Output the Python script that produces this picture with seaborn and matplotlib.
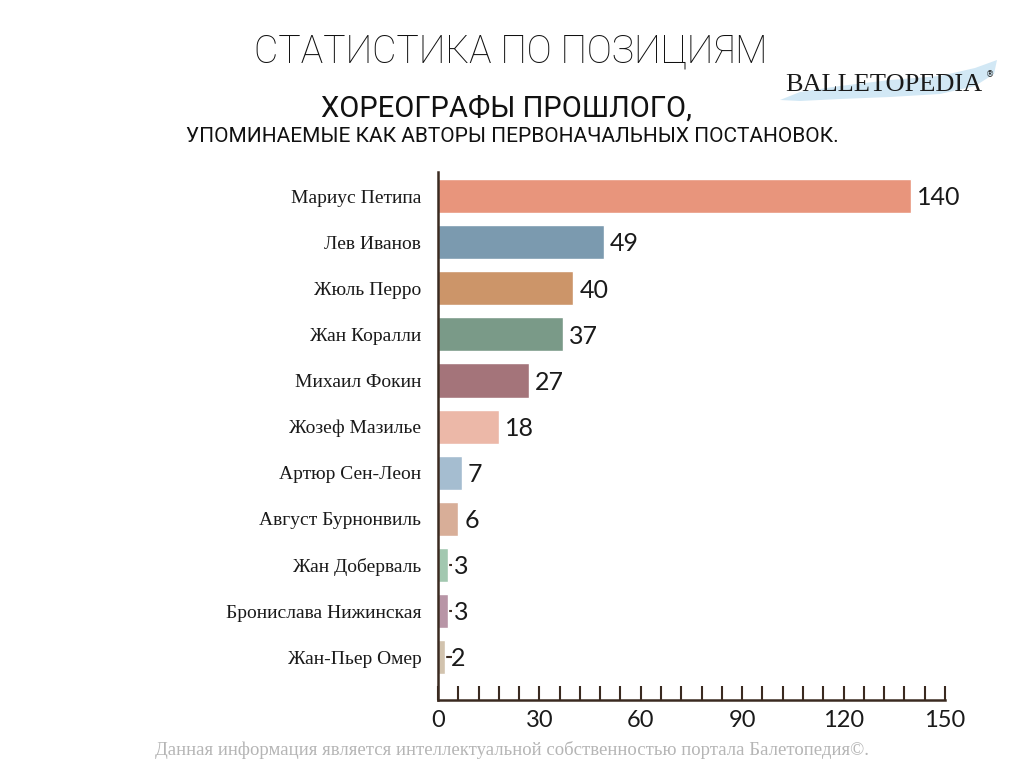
import matplotlib
matplotlib.use("Agg")
import matplotlib.pyplot as plt
import seaborn as sns
import pandas as pd
from matplotlib.patches import Polygon
from matplotlib.ticker import MultipleLocator

# data
names = ['Мариус Петипа', 'Лев Иванов', 'Жюль Перро', 'Жан Коралли',
         'Михаил Фокин', 'Жозеф Мазилье', 'Артюр Сен-Леон',
         'Август Бурнонвиль', 'Жан Доберваль', 'Бронислава Нижинская',
         'Жан-Пьер Омер']
counts = [140, 49, 40, 37, 27, 18, 7, 6, 3, 3, 2]
colors = ['#E8957C', '#7B9AAF', '#CC9569', '#7A9A88', '#A4747A', '#ECB8A8',
          '#A5BDD0', '#D8AE98', '#A2C8B0', '#B895A6', '#D2C3AE']

df = pd.DataFrame({'name': names, 'count': counts})

sns.set_theme(style='white')
plt.rcParams['font.family'] = ['Roboto', 'DejaVu Sans']
axis_col = '#3a2a20'

fig = plt.figure(figsize=(10.24, 7.68), dpi=100)
ax = fig.add_axes([0.4277, 0.0885, 0.4951, 0.6875])

sns.barplot(data=df, x='count', y='name', hue='name', palette=colors,
            legend=False, width=0.74, saturation=1, ax=ax)

ax.set_xlim(0, 150)
ax.set_ylim(10.93, -0.52)
ax.xaxis.set_major_locator(MultipleLocator(30))
ax.xaxis.set_minor_locator(MultipleLocator(6))
ax.tick_params(axis='x', which='both', direction='in', length=10, width=1.5,
               color=axis_col, bottom=True, labelsize=17, pad=7)
ax.tick_params(axis='y', direction='in', length=10, width=1.5, color=axis_col,
               left=True, pad=12)
for lbl in ax.get_xticklabels():
    lbl.set_family(['Lato', 'DejaVu Sans'])
    lbl.set_color('#1a1a1a')
for lbl in ax.get_yticklabels():
    lbl.set_family(['Liberation Serif', 'DejaVu Serif'])
    lbl.set_fontsize(14)
    lbl.set_color('#1a1a1a')
ax.set_xlabel('')
ax.set_ylabel('')
for side in ['top', 'right']:
    ax.spines[side].set_visible(False)
for side in ['left', 'bottom']:
    ax.spines[side].set_color(axis_col)
    ax.spines[side].set_linewidth(1.8)

for i, v in enumerate(counts):
    ax.text(v + 1.8, i + 0.04, str(v), va='center', ha='left', fontsize=18,
            family=['Lato', 'DejaVu Sans'], color='#1a1a1a')

# titles
fig.text(0.499, 0.932, 'СТАТИСТИКА ПО ПОЗИЦИЯМ', ha='center', va='center',
         fontsize=27, fontweight='light', color='#111111')
fig.text(0.495, 0.859, 'ХОРЕОГРАФЫ ПРОШЛОГО,', ha='center', va='center',
         fontsize=21, color='#111111')
fig.text(0.50, 0.822, 'УПОМИНАЕМЫЕ КАК АВТОРЫ ПЕРВОНАЧАЛЬНЫХ ПОСТАНОВОК.',
         ha='center', va='center', fontsize=15, color='#111111')

# logo swoosh + text
px = [(780, 100), (800, 92), (840, 86), (890, 80), (940, 76), (975, 68),
      (997, 60), (994, 74), (975, 86), (940, 94), (890, 97), (840, 99),
      (800, 101)]
poly = Polygon([(x / 1024, 1 - y / 768) for x, y in px], closed=True,
               transform=fig.transFigure, facecolor='#d2e8f5', edgecolor='none')
fig.patches.append(poly)
fig.text(0.863, 0.889, 'BALLETOPEDIA', ha='center', va='center',
         fontsize=19, family=['Liberation Serif', 'DejaVu Serif'],
         color='#1a1a1a')
fig.text(0.9665, 0.903, '®', ha='center', va='center', fontsize=6,
         family=['DejaVu Sans'], color='#1a1a1a')

# footer
fig.text(0.5, 0.024,
         'Данная информация является интеллектуальной собственностью портала Балетопедия©.',
         ha='center', va='center', fontsize=13.5, color='#b5b5b5',
         family=['Liberation Serif', 'DejaVu Serif'])

fig.savefig('out.png', dpi=100)
